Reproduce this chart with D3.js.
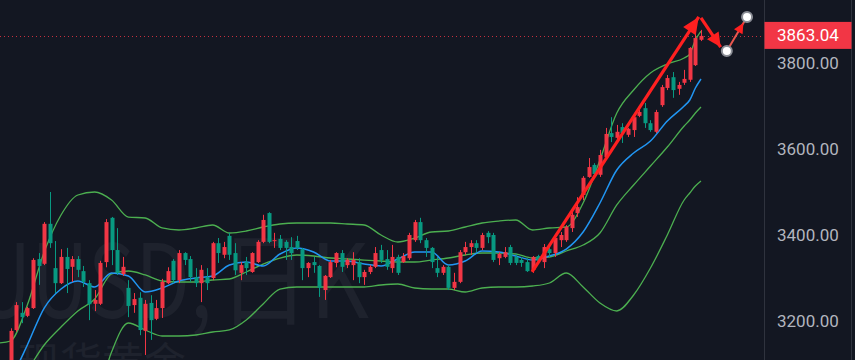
<!DOCTYPE html>
<html><head><meta charset="utf-8">
<script src="https://cdn.jsdelivr.net/npm/d3@7"></script>
<style>html,body{margin:0;padding:0;background:#131722;overflow:hidden}</style>
</head><body><svg id="chart" width="855" height="360"></svg>
<script>
// ---- candle data (daily OHLC) ----
const opens = [3075,3179,3219,3212,3230,3344,3333,3426,3323,3288,
3349,3326,3344,3316,3288,3240,3240,3337,3440,3365,
3309,3277,3237,3254,3177,3242,3205,3230,3288,3340,
3295,3358,3344,3302,3288,3302,3300,3381,3354,3398,
3358,3312,3337,3314,3337,3384,3451,3386,3391,3384,
3372,3386,3367,3323,3337,3328,3272,3302,3335,3358,
3330,3330,3337,3302,3314,3326,3365,3344,3323,3349,
3337,3346,3388,3430,3388,3370,3323,3312,3326,3277,
3291,3360,3372,3381,3370,3405,3400,3346,3349,3372,
3349,3342,3337,3319,3351,3337,3367,3358,3388,3388,
3416,3451,3493,3535,3563,3540,3581,3637,3626,3651,
3633,3644,3677,3695,3660,3640,3702,3742,3767,3740,
3754,3761,3795,3854];
const highs = [3183,3244,3244,3233,3346,3358,3430,3500,3386,3367,
3370,3351,3351,3328,3295,3272,3340,3437,3442,3416,
3349,3295,3265,3267,3249,3260,3249,3298,3325,3344,
3365,3360,3351,3323,3330,3323,3384,3393,3384,3405,
3381,3337,3349,3360,3388,3447,3453,3405,3400,3388,
3395,3398,3370,3337,3349,3330,3307,3342,3360,3365,
3346,3360,3346,3319,3330,3372,3377,3365,3377,3354,
3358,3405,3435,3440,3393,3372,3349,3330,3330,3312,
3365,3384,3388,3388,3405,3409,3405,3360,3372,3377,
3356,3349,3346,3351,3354,3379,3372,3395,3407,3423,
3454,3488,3537,3579,3567,3598,3649,3674,3656,3660,
3649,3684,3691,3707,3667,3691,3749,3772,3779,3756,
3784,3837,3872,3877];
const lows = [3070,3175,3195,3209,3228,3284,3330,3370,3265,3286,
3265,3291,3302,3279,3202,3223,3237,3325,3330,3307,
3305,3209,3219,3167,3121,3156,3202,3207,3286,3288,
3288,3330,3291,3279,3244,3272,3295,3335,3346,3342,
3307,3295,3307,3312,3335,3381,3381,3370,3365,3342,
3342,3365,3295,3302,3312,3256,3249,3300,3325,3314,
3323,3295,3288,3284,3309,3323,3335,3319,3312,3307,
3335,3342,3384,3381,3349,3323,3302,3307,3272,3272,
3288,3354,3354,3360,3365,3381,3337,3330,3346,3330,
3330,3326,3314,3312,3337,3323,3349,3349,3372,3384,
3407,3442,3481,3533,3533,3535,3579,3616,3614,3614,
3628,3628,3674,3649,3640,3637,3698,3737,3719,3726,
3749,3756,3793,3851];
const closes = [3177,3237,3209,3230,3342,3328,3426,3381,3288,3349,
3321,3344,3319,3291,3239,3249,3335,3430,3365,3312,
3326,3235,3251,3179,3240,3202,3230,3291,3316,3295,
3358,3342,3302,3288,3319,3288,3381,3358,3372,3354,
3318,3330,3323,3358,3384,3435,3384,3388,3370,3370,
3358,3370,3323,3335,3330,3277,3305,3337,3358,3326,
3342,3342,3302,3314,3326,3358,3342,3326,3349,3312,
3351,3400,3430,3388,3370,3337,3312,3326,3277,3291,
3360,3372,3381,3370,3400,3395,3342,3356,3360,3335,
3335,3335,3316,3349,3340,3372,3358,3393,3400,3419,
3447,3465,3533,3558,3542,3586,3635,3628,3640,3637,
3647,3674,3686,3660,3644,3686,3744,3765,3737,3749,
3763,3835,3858,3863.04];

// ---- indicator lines, read at these bar indices ----
const lineIndex = [-2,0,3,6,9,12,15,18,21,24,27,30,33,36,39,42,45,48,51,54,57,60,63,66,69,72,75,78,81,84,87,90,93,96,99,102,105,108,111,114,117,120,121,122,123];
const bollUpper = [3148.8,3153.5,3237.2,3360.5,3446.5,3493.0,3500.0,3481.4,3441.8,3439.5,3416.3,3411.6,3416.3,3423.3,3404.6,3409.3,3418.6,3425.6,3427.9,3427.9,3427.9,3425.6,3423.3,3400.0,3383.7,3393.0,3407.0,3409.3,3418.6,3427.9,3432.5,3434.9,3411.6,3416.3,3418.6,3474.4,3574.4,3683.7,3737.2,3776.7,3797.7,3811.6,3820.9,3853.5,3874.4];
const bollMiddle = [3016.3,3039.5,3086.0,3144.2,3186.0,3223.3,3251.2,3309.3,3316.3,3307.0,3293.0,3290.7,3290.7,3295.3,3297.7,3314.0,3332.5,3346.5,3353.5,3351.2,3346.5,3344.2,3341.8,3339.5,3337.2,3337.2,3341.8,3346.5,3353.5,3358.1,3358.1,3355.8,3346.5,3348.8,3362.8,3376.7,3404.6,3469.8,3516.3,3560.4,3604.6,3653.5,3667.4,3683.7,3697.7];
const bollLower = [2899.9,2925.5,2934.9,2927.9,2925.5,2953.5,3002.3,3127.9,3195.3,3179.1,3165.1,3165.1,3167.4,3174.4,3179.1,3202.3,3239.5,3274.4,3279.1,3279.1,3279.1,3279.1,3279.1,3283.7,3286.0,3276.7,3274.4,3274.4,3267.4,3276.7,3279.1,3279.1,3281.4,3288.4,3311.6,3279.1,3241.9,3223.3,3260.5,3323.2,3400.0,3481.4,3497.7,3513.9,3525.6];
const maFast = [3016.3,3062.8,3144.2,3230.2,3274.4,3293.0,3279.1,3311.6,3304.6,3267.4,3276.7,3293.0,3300.0,3304.6,3330.2,3337.2,3327.9,3355.8,3369.8,3360.5,3339.5,3339.5,3332.5,3327.9,3344.2,3360.5,3360.5,3330.2,3339.5,3362.8,3360.5,3351.2,3341.8,3351.2,3367.4,3407.0,3474.4,3551.2,3590.7,3618.6,3665.1,3700.0,3714.0,3741.9,3762.8];

// ---- axis ticks and drawing annotations (bar index, price) ----
const priceTicks = [3200, 3400, 3600, 3800];
const lastPrice = 3863.04;
const trendUp = [[92.9, 3314], [122.6, 3907]];
const trendDown = [[123.0, 3905], [126.5, 3837]];
const forecast = [[127.6, 3828], [131.2, 3907]];
const watermarkSymbol = "XAUUSD,";
const watermarkPeriod = "日K";
const watermarkSub = "现货黄金";

const W = 855, H = 360, paneRight = 764;
const svg = d3.select("#chart");
svg.append("rect").attr("width", W).attr("height", H).attr("fill", "#131722");

const x = d3.scaleLinear().domain([0, closes.length - 1]).range([10.5, 701]);
const y = d3.scaleLinear().domain([3200, 3800]).range([321, 63]);

svg.append("clipPath").attr("id", "pane").append("rect")
  .attr("x", 0).attr("y", 0).attr("width", paneRight).attr("height", H);
const pane = svg.append("g").attr("clip-path", "url(#pane)");

// watermark
const wmFont = "'Noto Sans CJK SC', 'Noto Sans', sans-serif", wmColor = "#1e222d";
const sxLatin = 0.78, sxCjk = 0.9;
pane.append("text").text(watermarkSymbol)
  .attr("transform", `scale(${sxLatin},1)`)
  .attr("x", 212 / sxLatin).attr("y", 318).attr("text-anchor", "end")
  .attr("font-family", wmFont).attr("font-size", 102).attr("fill", wmColor);
pane.append("text").text(watermarkPeriod)
  .attr("transform", `scale(${sxCjk},1)`)
  .attr("x", 218 / sxCjk).attr("y", 318).attr("text-anchor", "start")
  .attr("font-family", wmFont).attr("font-size", 102).attr("fill", wmColor);
pane.append("text").text(watermarkSub)
  .attr("x", 18).attr("y", 378)
  .attr("font-family", wmFont).attr("font-size", 42).attr("fill", wmColor);

// last price dotted line
pane.append("line").attr("x1", 0).attr("x2", paneRight)
  .attr("y1", Math.round(y(lastPrice)) + 0.5).attr("y2", Math.round(y(lastPrice)) + 0.5)
  .attr("stroke", "#f23645").attr("stroke-width", 1).attr("stroke-dasharray", "1,3").attr("opacity", 0.8);

// indicator lines
const mk = vals => d3.line().x((d, i) => x(lineIndex[i])).y(d => y(d)).curve(d3.curveMonotoneX)(vals);
pane.append("path").attr("d", mk(bollUpper)).attr("fill", "none").attr("stroke", "#4caf50").attr("stroke-width", 1.3);
pane.append("path").attr("d", mk(bollMiddle)).attr("fill", "none").attr("stroke", "#4caf50").attr("stroke-width", 1.3);
pane.append("path").attr("d", mk(bollLower)).attr("fill", "none").attr("stroke", "#4caf50").attr("stroke-width", 1.3);
pane.append("path").attr("d", mk(maFast)).attr("fill", "none").attr("stroke", "#2196f3").attr("stroke-width", 1.5);

// candles
const up = "#f23645", down = "#089981";
const bars = pane.append("g").selectAll("g").data(d3.range(closes.length)).join("g");
bars.append("line")
  .attr("x1", i => Math.round(x(i)) + 0.5).attr("x2", i => Math.round(x(i)) + 0.5)
  .attr("y1", i => y(highs[i])).attr("y2", i => y(lows[i]))
  .attr("stroke", i => closes[i] >= opens[i] ? up : down).attr("stroke-width", 1);
bars.append("rect")
  .attr("x", i => Math.round(x(i)) - 1.5).attr("width", 4)
  .attr("y", i => y(Math.max(opens[i], closes[i])))
  .attr("height", i => Math.max(1, Math.abs(y(opens[i]) - y(closes[i]))))
  .attr("fill", i => closes[i] >= opens[i] ? up : down);

// drawing annotations
function arrowHead(g, p0, p1, len, half, color) {
  const ax = x(p1[0]), ay = y(p1[1]), bx = x(p0[0]), by = y(p0[1]);
  const a = Math.atan2(ay - by, ax - bx);
  const pts = [[ax, ay],
    [ax - len * Math.cos(a) + half * Math.sin(a), ay - len * Math.sin(a) - half * Math.cos(a)],
    [ax - len * Math.cos(a) - half * Math.sin(a), ay - len * Math.sin(a) + half * Math.cos(a)]];
  g.append("polygon").attr("points", pts.map(p => p.join(",")).join(" ")).attr("fill", color);
}
const ann = svg.append("g");
const red = "#ff2020";
const seg = d3.line().x(d => x(d[0])).y(d => y(d[1]));
ann.append("path").attr("d", seg(trendUp)).attr("stroke", red).attr("stroke-width", 3.2).attr("fill", "none");
arrowHead(ann, trendUp[0], trendUp[1], 17, 7.5, red);
ann.append("path").attr("d", seg(trendDown)).attr("stroke", red).attr("stroke-width", 3.2).attr("fill", "none");
arrowHead(ann, trendDown[0], trendDown[1], 14, 7, red);
ann.append("path").attr("d", seg(forecast)).attr("stroke", "#e8574f").attr("stroke-width", 2).attr("fill", "none");
const fEnd = [forecast[0][0] + (forecast[1][0] - forecast[0][0]) * 0.82, forecast[0][1] + (forecast[1][1] - forecast[0][1]) * 0.82];
arrowHead(ann, forecast[0], fEnd, 10, 5, red);
ann.selectAll("circle").data(forecast).join("circle")
  .attr("cx", d => x(d[0])).attr("cy", d => y(d[1])).attr("r", 5)
  .attr("fill", "#ffffff").attr("stroke", "#8a8d95").attr("stroke-width", 2);

// price axis
svg.append("line").attr("x1", paneRight + 0.5).attr("x2", paneRight + 0.5).attr("y1", 0).attr("y2", H)
  .attr("stroke", "#2f333e").attr("stroke-width", 1);
svg.append("line").attr("x1", 851.5).attr("x2", 851.5).attr("y1", 0).attr("y2", H)
  .attr("stroke", "#2f333e").attr("stroke-width", 1);
const axis = svg.append("g").attr("transform", `translate(${paneRight},0)`)
  .call(d3.axisRight(y).tickValues(priceTicks).tickFormat(d3.format(".2f")).tickSize(0).tickPadding(13));
axis.select(".domain").remove();
axis.selectAll("text").attr("fill", "#b2b5be").attr("font-family", "Roboto, sans-serif").attr("font-size", 17);

const ly = y(lastPrice);
svg.append("rect").attr("x", paneRight + 0.5).attr("y", ly - 14).attr("width", 851 - paneRight).attr("height", 27).attr("fill", "#f23645");
svg.append("text").text(d3.format(".2f")(lastPrice))
  .attr("x", paneRight + 13).attr("y", ly).attr("dy", "0.32em")
  .attr("fill", "#ffffff").attr("font-family", "Roboto, sans-serif").attr("font-size", 17);
</script></body></html>
